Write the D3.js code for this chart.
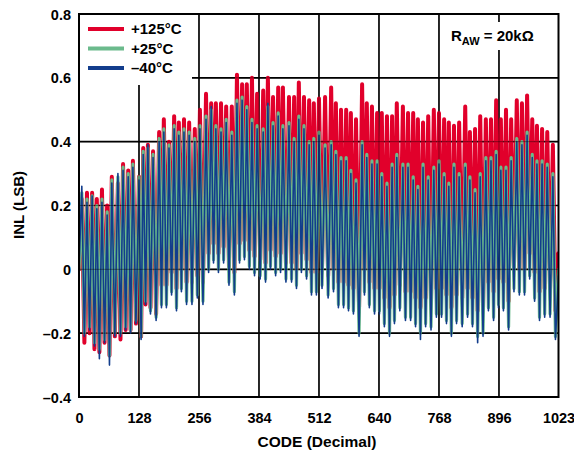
<!DOCTYPE html>
<html><head><meta charset="utf-8">
<script src="https://cdn.jsdelivr.net/npm/d3@7"></script>
<style>
html,body{margin:0;padding:0;background:#fff;}
svg text{font-family:"Liberation Sans",Arial,sans-serif;font-weight:bold;fill:#000;}
</style></head>
<body>
<svg id="chart" width="574" height="458"></svg>
<script>
// ---- data ----
const xTicks = [0,128,256,384,512,640,768,896,1023];
const yTicks = [-0.4,-0.2,0,0.2,0.4,0.6,0.8];
const yTickLabels = ["\u20130.4","\u20130.2","0","0.2","0.4","0.6","0.8"];
const seriesNames = ["+125\u00B0C","+25\u00B0C","\u201340\u00B0C"];
const seriesColors = ["#E1002B","#6BBA8C","#123D8C"];

// code of each local maximum (one per ripple cycle)
const peakCodes = [6,17,28,38,49,60,70,83,94,105,115,128,137,147,158,171,181,192,203,213,
224,235,247,258,271,282,292,303,314,326,337,348,358,369,380,393,403,414,425,435,
448,459,469,480,491,501,512,525,538,548,559,570,580,591,604,614,625,636,646,657,
668,678,691,702,713,723,734,745,757,768,779,789,800,811,824,834,845,856,868,879,
890,900,911,922,934,945,956,967,977,988,999,1011];

const startValue = [0.0, 0.0, 0.0];
const endValue = [0.05, 0.0, -0.02];

// +125°C
const redPeaks = [0.22,0.24,0.24,0.22,0.25,0.20,0.29,0.27,0.33,0.31,
0.34,0.29,0.38,0.39,0.37,0.43,0.47,0.40,0.48,0.46,
0.47,0.46,0.44,0.50,0.55,0.52,0.52,0.52,0.51,0.51,
0.61,0.58,0.58,0.60,0.55,0.56,0.60,0.54,0.57,0.57,
0.54,0.54,0.585,0.54,0.53,0.52,0.535,0.54,0.57,0.52,
0.50,0.50,0.49,0.47,0.58,0.52,0.51,0.49,0.49,0.48,
0.48,0.52,0.51,0.49,0.49,0.47,0.46,0.48,0.50,0.49,
0.47,0.46,0.45,0.46,0.51,0.43,0.44,0.48,0.47,0.47,
0.53,0.47,0.50,0.47,0.53,0.52,0.545,0.47,0.45,0.44,
0.43,0.39];
const redTroughs = [-0.23,-0.20,-0.25,-0.26,-0.23,-0.27,-0.21,-0.22,-0.19,-0.19,
-0.17,-0.21,-0.11,-0.12,-0.14,-0.05,-0.05,-0.01,-0.06,0.00,
-0.04,-0.04,-0.02,-0.04,0.05,0.08,0.05,0.07,0.01,-0.01,
0.08,0.09,0.06,0.04,0.03,0.02,0.06,0.04,0.05,0.02,
0.02,0.00,0.05,0.03,-0.01,-0.01,0.01,-0.02,0.00,-0.04,
-0.04,-0.05,-0.06,-0.12,0.00,-0.04,-0.06,-0.06,-0.09,-0.12,
-0.08,-0.05,-0.07,-0.07,-0.09,-0.12,-0.09,-0.10,-0.06,-0.06,
-0.08,-0.12,-0.08,-0.09,-0.06,-0.09,-0.13,-0.12,-0.04,-0.07,
-0.03,-0.04,-0.10,0.01,0.00,0.00,0.05,-0.01,-0.07,-0.06,
-0.06,-0.13];

// +25°C
const greenPeaks = [0.24,0.22,0.23,0.20,0.22,0.18,0.28,0.29,0.32,0.30,
0.33,0.29,0.37,0.38,0.36,0.41,0.44,0.39,0.45,0.43,
0.44,0.43,0.41,0.45,0.48,0.50,0.45,0.44,0.47,0.43,
0.53,0.54,0.51,0.47,0.45,0.44,0.51,0.46,0.49,0.45,
0.46,0.41,0.48,0.45,0.40,0.41,0.43,0.39,0.40,0.37,
0.35,0.35,0.31,0.28,0.40,0.36,0.34,0.34,0.30,0.27,
0.33,0.36,0.33,0.33,0.29,0.26,0.33,0.29,0.32,0.34,
0.30,0.27,0.33,0.30,0.33,0.29,0.25,0.30,0.35,0.35,
0.37,0.32,0.32,0.35,0.41,0.40,0.43,0.36,0.34,0.34,
0.33,0.30];
const greenTroughs = [-0.20,-0.18,-0.23,-0.25,-0.22,-0.27,-0.20,-0.20,-0.18,-0.19,
-0.16,-0.21,-0.10,-0.13,-0.15,-0.11,-0.11,-0.07,-0.12,-0.06,
-0.10,-0.10,-0.08,-0.10,0.00,0.03,0.00,0.03,-0.04,-0.07,
0.03,0.04,0.01,-0.01,-0.02,-0.03,0.01,-0.01,0.00,-0.03,
-0.03,-0.05,0.00,-0.02,-0.07,-0.07,-0.05,-0.08,-0.06,-0.11,
-0.11,-0.12,-0.13,-0.20,-0.07,-0.11,-0.13,-0.13,-0.17,-0.20,
-0.16,-0.12,-0.15,-0.15,-0.17,-0.20,-0.17,-0.18,-0.14,-0.14,
-0.16,-0.20,-0.16,-0.17,-0.14,-0.17,-0.21,-0.20,-0.12,-0.15,
-0.11,-0.12,-0.18,-0.06,-0.07,-0.07,-0.02,-0.09,-0.15,-0.14,
-0.14,-0.21];

// -40°C
const bluePeaks = [0.26,0.21,0.23,0.19,0.21,0.17,0.27,0.30,0.31,0.29,
0.32,0.28,0.36,0.39,0.35,0.40,0.43,0.38,0.44,0.42,
0.43,0.42,0.40,0.44,0.47,0.51,0.44,0.43,0.46,0.42,
0.52,0.53,0.50,0.46,0.44,0.43,0.52,0.45,0.48,0.44,
0.45,0.40,0.47,0.44,0.39,0.40,0.42,0.38,0.39,0.36,
0.34,0.34,0.30,0.27,0.39,0.35,0.33,0.33,0.29,0.26,
0.32,0.35,0.32,0.32,0.28,0.25,0.32,0.28,0.31,0.33,
0.29,0.26,0.32,0.29,0.32,0.28,0.24,0.29,0.34,0.34,
0.36,0.31,0.31,0.34,0.40,0.39,0.42,0.35,0.33,0.33,
0.32,0.29];
const blueTroughs = [-0.21,-0.19,-0.24,-0.28,-0.23,-0.30,-0.21,-0.21,-0.19,-0.20,
-0.17,-0.22,-0.11,-0.14,-0.16,-0.12,-0.12,-0.08,-0.13,-0.07,
-0.11,-0.11,-0.09,-0.11,-0.01,0.02,-0.01,0.02,-0.05,-0.08,
0.02,0.03,0.00,-0.02,-0.03,-0.04,0.00,-0.02,-0.01,-0.04,
-0.04,-0.06,-0.01,-0.03,-0.08,-0.08,-0.06,-0.09,-0.07,-0.12,
-0.12,-0.13,-0.14,-0.21,-0.08,-0.12,-0.14,-0.14,-0.18,-0.21,
-0.17,-0.13,-0.16,-0.16,-0.18,-0.22,-0.18,-0.19,-0.15,-0.15,
-0.17,-0.21,-0.17,-0.18,-0.15,-0.18,-0.23,-0.21,-0.13,-0.16,
-0.12,-0.13,-0.19,-0.07,-0.08,-0.08,-0.03,-0.10,-0.16,-0.15,
-0.15,-0.22];

// ---- drawing ----
const svg = d3.select("#chart");
const L = 79, R = 558.5, T = 14, B = 397;
const x = d3.scaleLinear().domain([0,1023]).range([L,R]);
const y = d3.scaleLinear().domain([-0.4,0.8]).range([B,T]);

function buildPoints(peaks, troughs, s){
  const pts = [[0, startValue[s]]];
  peakCodes.forEach((c,i)=>{
    pts.push([c, peaks[i]]);
    const next = i < peakCodes.length-1 ? peakCodes[i+1] : 1022;
    pts.push([(c+next)/2, troughs[i]]);
  });
  pts.push([1023, endValue[s]]);
  return pts;
}
const series = [
  {pts: buildPoints(redPeaks, redTroughs, 0), color: seriesColors[0], w: 4.0},
  {pts: buildPoints(greenPeaks, greenTroughs, 1), color: seriesColors[1], w: 3.2},
  {pts: buildPoints(bluePeaks, blueTroughs, 2), color: seriesColors[2], w: 1.6}
];

function drawGrid(g, color, width, opacity){
  g.selectAll(".v").data(xTicks.slice(1,-1)).enter().append("line")
    .attr("x1",d=>x(d)).attr("x2",d=>x(d)).attr("y1",T).attr("y2",B)
    .attr("stroke",color).attr("stroke-width",width).attr("opacity",opacity);
  g.selectAll(".h").data(yTicks.slice(1,-1)).enter().append("line")
    .attr("x1",L).attr("x2",R).attr("y1",d=>y(d)).attr("y2",d=>y(d))
    .attr("stroke",color).attr("stroke-width",width).attr("opacity",opacity);
}
drawGrid(svg.append("g"), "#000", 1.6, 1);

const line = d3.line().x(d=>x(d[0])).y(d=>y(d[1]));
svg.append("clipPath").attr("id","clip").append("rect")
  .attr("x",L).attr("y",T).attr("width",R-L).attr("height",B-T);
const dataG = svg.append("g").attr("clip-path","url(#clip)");
series.forEach(s=>{
  dataG.append("path").attr("d",line(s.pts)).attr("fill","none")
    .attr("stroke",s.color).attr("stroke-width",s.w)
    .attr("stroke-linejoin","round").attr("stroke-linecap","round");
});

// faint grid over data
drawGrid(svg.append("g"), "#000", 1, 0.4);

// legend box
svg.append("rect").attr("x",L+1).attr("y",T+1).attr("width",112).attr("height",70).attr("fill","#fff");
const lg = svg.append("g");
seriesNames.forEach((n,i)=>{
  const yy = 29 + i*19.5;
  lg.append("line").attr("x1",88).attr("x2",124).attr("y1",yy).attr("y2",yy)
    .attr("stroke",seriesColors[i]).attr("stroke-width",4);
  lg.append("text").attr("x",131).attr("y",yy+5).attr("font-size",15).text(n);
});

// R_AW annotation
svg.append("rect").attr("x",445).attr("y",22).attr("width",105).attr("height",28).attr("fill","#fff");
const ra = svg.append("text").attr("x",451).attr("y",41).attr("font-size",15);
ra.append("tspan").text("R");
ra.append("tspan").attr("font-size",11).attr("dy",4).text("AW");
ra.append("tspan").attr("dy",-4).text(" = 20k\u03A9");

// frame
svg.append("rect").attr("x",L).attr("y",T).attr("width",R-L).attr("height",B-T)
  .attr("fill","none").attr("stroke","#000").attr("stroke-width",2);

// axes labels
const xAxis = d3.axisBottom(x).tickValues(xTicks).tickSize(0).tickFormat(d3.format("d"));
const gx = svg.append("g").attr("transform",`translate(0,${B})`).call(xAxis);
gx.select(".domain").remove();
gx.selectAll("text").attr("font-size",14.5).attr("dy",null).attr("y",26)
  .style("font-family","'Liberation Sans',Arial,sans-serif").style("font-weight","bold");

const yAxis = d3.axisLeft(y).tickValues(yTicks).tickSize(0).tickFormat((d,i)=>yTickLabels[i]);
const gy = svg.append("g").attr("transform",`translate(${L},0)`).call(yAxis);
gy.select(".domain").remove();
gy.selectAll("text").attr("font-size",14.5).attr("x",-8).attr("dy","0.35em")
  .style("font-family","'Liberation Sans',Arial,sans-serif").style("font-weight","bold");

svg.append("text").attr("x",317).attr("y",447).attr("text-anchor","middle").attr("font-size",15.5)
  .text("CODE (Decimal)");
svg.append("text").attr("transform","translate(24,205) rotate(-90)").attr("text-anchor","middle")
  .attr("font-size",15).text("INL (LSB)");
</script>
</body></html>
